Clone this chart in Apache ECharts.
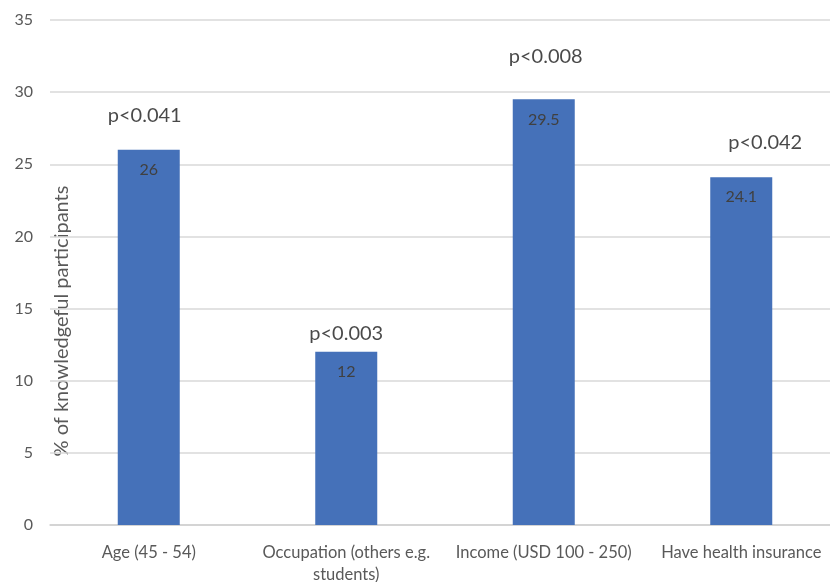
<!DOCTYPE html>
<html>
<head>
<meta charset="utf-8">
<script src="https://cdn.jsdelivr.net/npm/echarts@6/dist/echarts.min.js"></script>
<style>
  html, body { margin: 0; padding: 0; background: #fff; }
  #chart { width: 830px; height: 582px; }
</style>
</head>
<body>
<div id="chart"></div>
<script>
const categories = ['Age (45 - 54)', 'Occupation (others e.g.\nstudents)', 'Income (USD 100 - 250)', 'Have health insurance']
const values = [26, 12, 29.5, 24.1]
// p-value notes and where they sit (in axis units)
const pLabels = ['p<0.041', 'p<0.003', 'p<0.008', 'p<0.042']
const pLevels = [28.4, 13.3, 32.5, 26.5]
const pShiftX = [-4, 0, 2, 24]

const font = 'Lato, "Open Sans", sans-serif'

let chart = echarts.init(document.getElementById('chart'))
chart.setOption({
  animation: false,
  textStyle: { fontFamily: font },
  grid: { left: 50, width: 790, top: 20, bottom: 57, containLabel: false, outerBoundsMode: 'none' },
  xAxis: {
    type: 'category',
    data: categories,
    axisLine: { lineStyle: { color: '#d0d0d0', width: 1.5 } },
    axisTick: { show: false },
    axisLabel: { color: '#595959', fontSize: 16.5, margin: 17, lineHeight: 22, interval: 0 },
  },
  yAxis: {
    type: 'value',
    min: 0,
    max: 35,
    interval: 5,
    axisLine: { show: false },
    axisTick: { show: false },
    axisLabel: { color: '#595959', fontSize: 16, margin: 17 },
    splitLine: { lineStyle: { color: '#d9d9d9', width: 1.5 } },
  },
  graphic: [{
    type: 'text',
    x: 62,
    y: 321,
    rotation: Math.PI / 2,
    style: {
      text: '% of knowledgeful participants',
      fill: '#595959',
      font: '20px ' + font,
      align: 'center',
      verticalAlign: 'middle',
    },
  }],
  series: [
    {
      type: 'bar',
      data: values,
      barWidth: 62,
      itemStyle: { color: '#4571B9' },
      label: {
        show: true,
        position: 'insideTop',
        distance: 12,
        color: '#404040',
        fontSize: 16,
      },
    },
    {
      type: 'scatter',
      data: pLevels,
      symbolSize: 0,
      silent: true,
      label: {
        show: true,
        position: 'inside',
        color: '#1a1a1a',
        fontSize: 20,
        formatter: (p) => pLabels[p.dataIndex],
      },
      labelLayout: (p) => ({ dx: pShiftX[p.dataIndex] }),
    },
  ],
})
</script>
</body>
</html>
